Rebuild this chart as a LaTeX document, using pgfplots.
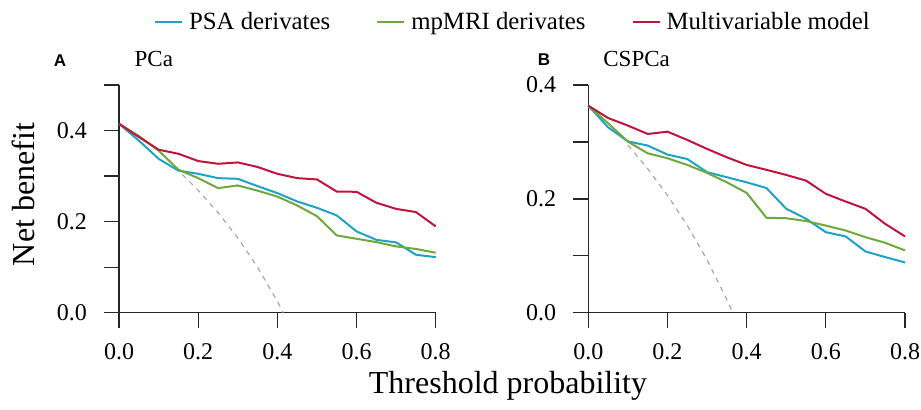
\documentclass[border=0pt]{standalone}
\usepackage{pgfplots}
\pgfplotsset{compat=1.18}
\usepackage{fontspec}
\setmainfont{Liberation Serif}
\newfontfamily\panelfont{Liberation Sans}

\definecolor{psacol}{HTML}{1FA2C8}
\definecolor{mricol}{HTML}{6FA83C}
\definecolor{mvmcol}{HTML}{C0143C}
\definecolor{allgray}{HTML}{A8A8A8}

\pgfplotsset{
  dca/.style={
    scale only axis,
    width=158.35pt, height=113.85pt,
    xmin=0, xmax=0.8,
    axis lines=left,
    axis line style={-, line width=0.65pt, black!85},
    tick align=outside,
    major tick length=7.5pt,
    minor tick length=7.5pt,
    tick style={line width=0.65pt, black!85},
    xtick={0,0.2,0.4,0.6,0.8},
    xticklabels={0.0,0.2,0.4,0.6,0.8},
    ticklabel style={font=\fontsize{12}{14}\selectfont},
    xticklabel style={yshift=-4.5pt},
    yticklabel style={xshift=-5pt},
    clip=false,
  },
  psaline/.style={psacol, line width=1pt},
  mriline/.style={mricol, line width=1pt},
  mvmline/.style={mvmcol, line width=1pt},
  allline/.style={allgray, line width=0.6pt, dash pattern=on 2.5pt off 2.5pt},
}

\begin{document}
\begin{tikzpicture}
\useasboundingbox (0pt,0pt) rectangle (460.5pt,204.5pt);

% Panel A: PCa
\begin{axis}[dca,
  at={(59.5pt,48.15pt)}, anchor=south west,
  ymin=0, ymax=0.5,
  ytick={0,0.2,0.4}, yticklabels={0.0,0.2,0.4},
  minor ytick={0.1,0.3,0.5},
  legend columns=3,
  legend style={at={(0.1095,1.2767)}, anchor=west, draw=none, fill=none,
    inner sep=0pt, font=\fontsize{12.4}{14}\selectfont,
    /tikz/every odd column/.style={column sep=1pt},
    /tikz/every even column/.style={column sep=21pt}},
  legend image code/.code={\draw[#1] (0pt,0pt) -- (13.5pt,0pt);},
]
\addplot[allline, forget plot] coordinates {
  (0.16,0.3036) (0.20,0.2688) (0.25,0.2200) (0.30,0.1643)
  (0.35,0.1000) (0.40,0.0250) (0.415,0.0)
};
\addplot[psaline] coordinates {
  (0,0.415) (0.05,0.378) (0.10,0.338) (0.15,0.312) (0.20,0.305)
  (0.25,0.2955) (0.30,0.294) (0.35,0.278) (0.40,0.2626) (0.45,0.2443)
  (0.50,0.2304) (0.55,0.2136) (0.60,0.1785) (0.65,0.160) (0.70,0.1544)
  (0.75,0.1273) (0.80,0.122)
};
\addplot[mriline] coordinates {
  (0,0.415) (0.05,0.388) (0.10,0.356) (0.15,0.314) (0.20,0.2955)
  (0.25,0.2736) (0.30,0.2794) (0.35,0.268) (0.40,0.255) (0.45,0.2355)
  (0.50,0.212) (0.55,0.1697) (0.60,0.1624) (0.65,0.155) (0.70,0.1456)
  (0.75,0.140) (0.80,0.1317)
};
\addplot[mvmline] coordinates {
  (0,0.415) (0.05,0.386) (0.10,0.358) (0.15,0.349) (0.20,0.333)
  (0.25,0.327) (0.30,0.330) (0.35,0.320) (0.40,0.305) (0.45,0.2955)
  (0.50,0.2926) (0.55,0.266) (0.60,0.2655) (0.65,0.2414) (0.70,0.228)
  (0.75,0.221) (0.80,0.1895)
};
\legend{PSA derivates, mpMRI derivates, Multivariable model}
\end{axis}

% Panel B: CSPCa
\begin{axis}[dca,
  at={(294.15pt,48.15pt)}, anchor=south west,
  ymin=0, ymax=0.4,
  ytick={0,0.2,0.4}, yticklabels={0.0,0.2,0.4},
  minor ytick={0.1,0.3},
]
\addplot[allline] coordinates {
  (0.10,0.2944) (0.15,0.2529) (0.20,0.2063) (0.25,0.1533)
  (0.30,0.0929) (0.35,0.0231) (0.365,0.0)
};
\addplot[psaline] coordinates {
  (0,0.3637) (0.05,0.3257) (0.10,0.301) (0.15,0.2936) (0.20,0.2778)
  (0.25,0.270) (0.30,0.2468) (0.35,0.238) (0.40,0.229) (0.45,0.219)
  (0.50,0.1825) (0.55,0.165) (0.60,0.1415) (0.65,0.134) (0.70,0.1076)
  (0.75,0.0977) (0.80,0.0883)
};
\addplot[mriline] coordinates {
  (0,0.3637) (0.05,0.3327) (0.10,0.3006) (0.15,0.280) (0.20,0.2713)
  (0.25,0.2596) (0.30,0.2456) (0.35,0.229) (0.40,0.2105) (0.45,0.1667)
  (0.50,0.166) (0.55,0.161) (0.60,0.153) (0.65,0.1444) (0.70,0.1327)
  (0.75,0.1228) (0.80,0.1094)
};
\addplot[mvmline] coordinates {
  (0,0.3637) (0.05,0.342) (0.10,0.3287) (0.15,0.314) (0.20,0.318)
  (0.25,0.3035) (0.30,0.2877) (0.35,0.273) (0.40,0.2596) (0.45,0.251)
  (0.50,0.242) (0.55,0.232) (0.60,0.2088) (0.65,0.1953) (0.70,0.1825)
  (0.75,0.156) (0.80,0.134)
};
\end{axis}

% panel letters and titles
\node[font=\panelfont\bfseries\fontsize{8.5}{10}\selectfont] at (30pt,174pt) {A};
\node[font=\fontsize{11.5}{13}\selectfont, anchor=base west, inner sep=0pt] at (67.15pt,171.5pt) {PCa};
\node[font=\panelfont\bfseries\fontsize{8.5}{10}\selectfont] at (272pt,174.5pt) {B};
\node[font=\fontsize{11.5}{13}\selectfont, anchor=base west, inner sep=0pt] at (301.5pt,171.5pt) {CSPCa};

% axis titles
\node[font=\fontsize{16}{18}\selectfont, rotate=90] at (11.5pt,107.25pt) {Net benefit};
\node[font=\fontsize{16}{18}\selectfont, anchor=base, inner sep=0pt] at (254pt,8pt) {Threshold probability};
\end{tikzpicture}
\end{document}
